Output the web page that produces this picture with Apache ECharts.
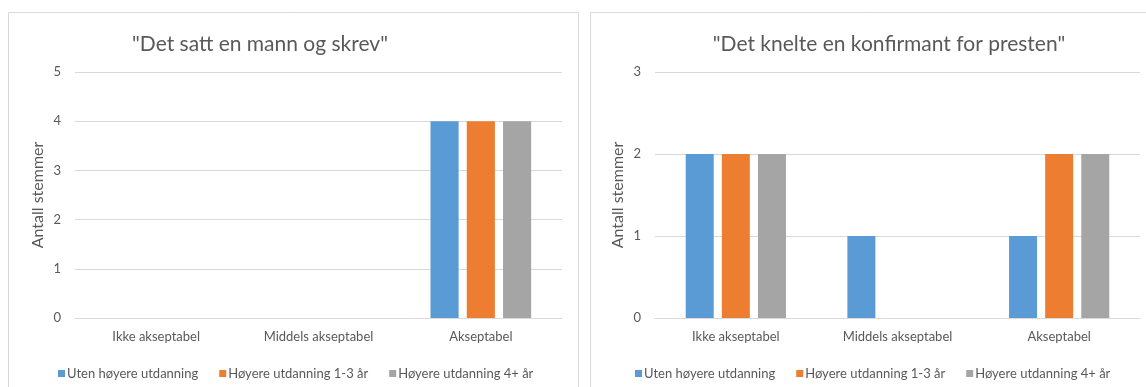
<!DOCTYPE html>
<html>
<head>
<meta charset="utf-8">
<script src="https://cdn.jsdelivr.net/npm/echarts@6/dist/echarts.min.js"></script>
<style>
  html, body { margin: 0; padding: 0; background: #ffffff; }
  #chart { width: 1146px; height: 387px; }
</style>
</head>
<body>
<div id="chart"></div>
<script>
// Categories and group names shared by both panels
const categories = ['Ikke akseptabel', 'Middels akseptabel', 'Akseptabel'];
const groupNames = ['Uten høyere utdanning', 'Høyere utdanning 1-3 år', 'Høyere utdanning 4+ år'];
const groupColors = ['#5b9bd5', '#ed7d31', '#a5a5a5'];

// Panel 1: "Det satt en mann og skrev"
const leftTitle = '"Det satt en mann og skrev"';
const leftUten = [0, 0, 4];
const leftKort = [0, 0, 4];
const leftLang = [0, 0, 4];
const leftMax = 5;

// Panel 2: "Det knelte en konfirmant for presten"
const rightTitle = '"Det knelte en konfirmant for presten"';
const rightUten = [2, 1, 1];
const rightKort = [2, 0, 2];
const rightLang = [2, 0, 2];
const rightMax = 3;

const axisName = 'Antall stemmer';

const FONT = 'Lato, "Open Sans", sans-serif';
const TEXT = '#595959';
const LINE = '#d9d9d9';

function xAxisFor(gridIndex) {
  return {
    type: 'category',
    gridIndex: gridIndex,
    data: categories,
    axisLine: { show: true, lineStyle: { color: LINE, width: 1 } },
    axisTick: { show: false },
    axisLabel: { color: TEXT, fontSize: 13, fontFamily: FONT, margin: 12 }
  };
}

function yAxisFor(gridIndex, max) {
  return {
    type: 'value',
    gridIndex: gridIndex,
    min: 0,
    max: max,
    interval: 1,
    name: axisName,
    nameLocation: 'middle',
    nameGap: 29,
    nameTextStyle: { color: TEXT, fontSize: 16, fontFamily: FONT },
    axisLine: { show: false },
    axisTick: { show: false },
    axisLabel: { color: TEXT, fontSize: 13, fontFamily: FONT, margin: 14 },
    splitLine: { show: true, lineStyle: { color: LINE, width: 1 } }
  };
}

function barsFor(axisIndex, valueSets) {
  return valueSets.map((vals, i) => ({
    name: groupNames[i],
    type: 'bar',
    xAxisIndex: axisIndex,
    yAxisIndex: axisIndex,
    data: vals,
    barGap: '29%',
    barCategoryGap: '38%',
    itemStyle: { color: groupColors[i] },
    emphasis: { disabled: true }
  }));
}

function legendFor(leftX) {
  return {
    data: groupNames,
    left: leftX,
    top: 362,
    itemWidth: 7,
    itemHeight: 7,
    itemGap: 21,
    icon: 'rect',
    textStyle: { color: TEXT, fontSize: 13, fontFamily: FONT, padding: [0, 0, 0, -3] },
    selectedMode: false
  };
}

const chart = echarts.init(document.getElementById('chart'), null, { renderer: 'canvas' });

chart.setOption({
  animation: false,
  backgroundColor: '#ffffff',
  graphic: [
    { type: 'rect', shape: { x: 8.5, y: 12.5, width: 570, height: 420 }, style: { fill: 'none', stroke: LINE, lineWidth: 1 }, silent: true },
    { type: 'rect', shape: { x: 590.5, y: 12.5, width: 600, height: 420 }, style: { fill: 'none', stroke: LINE, lineWidth: 1 }, silent: true }
  ],
  title: [
    { text: leftTitle, left: 255, top: 29, textAlign: 'center',
      textStyle: { color: TEXT, fontSize: 21, fontWeight: 'normal', fontFamily: FONT } },
    { text: rightTitle, left: 884, top: 29, textAlign: 'center',
      textStyle: { color: TEXT, fontSize: 21, fontWeight: 'normal', fontFamily: FONT } }
  ],
  legend: [legendFor(53), legendFor(630)],
  grid: [
    { left: 75, right: 584, top: 72, bottom: 69, containLabel: false },
    { left: 655, right: 6, top: 72, bottom: 69, containLabel: false }
  ],
  xAxis: [xAxisFor(0), xAxisFor(1)],
  yAxis: [yAxisFor(0, leftMax), yAxisFor(1, rightMax)],
  series: [
    ...barsFor(0, [leftUten, leftKort, leftLang]),
    ...barsFor(1, [rightUten, rightKort, rightLang])
  ]
});
</script>
</body>
</html>
